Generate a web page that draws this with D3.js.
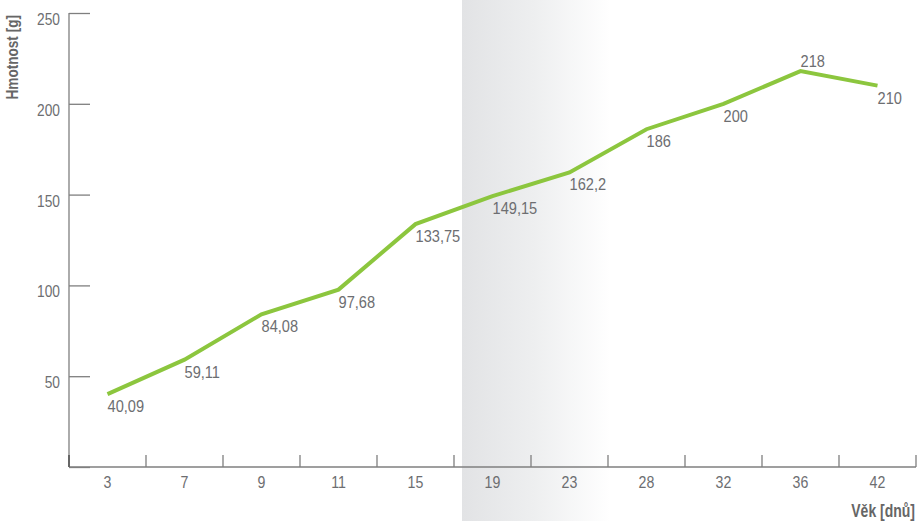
<!DOCTYPE html>
<html><head><meta charset="utf-8">
<script src="https://cdn.jsdelivr.net/npm/d3@7"></script>
<style>
html,body{margin:0;padding:0;background:#fff;}
svg{display:block;}
text{font-family:"Liberation Sans",Arial,sans-serif;}
</style></head>
<body>
<svg id="chart" width="917" height="521"></svg>
<script>
const categories = ["3","7","9","11","15","19","23","28","32","36","42"];
const weights = [40.09, 59.11, 84.08, 97.68, 133.75, 149.15, 162.2, 186, 200, 218, 210];
const weightLabels = ["40,09","59,11","84,08","97,68","133,75","149,15","162,2","186","200","218","210"];
const yTicks = [0, 50, 100, 150, 200, 250];
const yTitle = "Hmotnost [g]";
const xTitle = "Věk [dnů]";

(function(){
const W = 917, H = 521;
const svg = d3.select("#chart");
const mLeft = 69, mRight = 916, mTop = 13, mBottom = 467;
const SX = 0.86; // horizontal condensing of the labels

const x = d3.scaleBand().domain(categories).range([mLeft, mRight]).padding(0);
const y = d3.scaleLinear().domain([0, 250]).range([mBottom, mTop]);

// shaded gradient band
const defs = svg.append("defs");
const grad = defs.append("linearGradient").attr("id","shade").attr("x1","0").attr("x2","1").attr("y1","0").attr("y2","0");
grad.append("stop").attr("offset","0").attr("stop-color","#e2e3e5");
grad.append("stop").attr("offset","0.5").attr("stop-color","#eeeff0");
grad.append("stop").attr("offset","1").attr("stop-color","#ffffff");
svg.append("rect").attr("x", 462).attr("y", 0).attr("width", 148).attr("height", H).attr("fill","url(#shade)");

const axisColor = "#7f7f7f";
const textColor = "#6d6e71";

// y axis
const yAxis = d3.axisRight(y).tickValues(yTicks).tickSize(21).tickFormat("");
const gy = svg.append("g").attr("transform", `translate(${mLeft},0)`).call(yAxis);
gy.select(".domain").remove();
gy.selectAll(".tick line").attr("stroke", axisColor).attr("stroke-width", 1.3);
svg.append("line").attr("x1", mLeft).attr("x2", mLeft).attr("y1", mTop).attr("y2", mBottom).attr("stroke", axisColor).attr("stroke-width", 1.3);
svg.append("g").selectAll("text").data(yTicks.filter(d => d > 0)).join("text")
  .attr("transform", d => `translate(60,${y(d) + 12}) scale(${SX},1)`)
  .attr("text-anchor", "end").attr("font-size", 16).attr("fill", textColor)
  .text(d => d);

// x axis
svg.append("line").attr("x1", mLeft).attr("x2", mRight).attr("y1", mBottom).attr("y2", mBottom).attr("stroke", axisColor).attr("stroke-width", 1.3);
const boundaries = categories.map(c => x(c) + x.bandwidth());
svg.append("g").selectAll("line").data(boundaries).join("line")
  .attr("x1", d => d).attr("x2", d => d).attr("y1", mBottom - 12).attr("y2", mBottom)
  .attr("stroke", axisColor).attr("stroke-width", 1.3);
svg.append("line").attr("x1", mLeft).attr("x2", mLeft).attr("y1", mBottom - 12).attr("y2", mBottom).attr("stroke", "#666").attr("stroke-width", 2);
svg.append("g").selectAll("text").data(categories).join("text")
  .attr("transform", d => `translate(${x(d) + x.bandwidth() / 2},488) scale(${SX},1)`)
  .attr("text-anchor", "middle").attr("font-size", 16.5).attr("fill", textColor)
  .text(d => d);

// line
const cx = c => x(c) + x.bandwidth() / 2;
const line = d3.line().x((d, i) => cx(categories[i])).y(d => y(d));
svg.append("path").datum(weights).attr("d", line)
  .attr("fill", "none").attr("stroke", "#8cc63e").attr("stroke-width", 4).attr("stroke-linejoin", "miter");

// value labels
const maxI = weights.indexOf(d3.max(weights));
svg.append("g").selectAll("text").data(weights).join("text")
  .attr("transform", (d, i) => `translate(${cx(categories[i])},${i === maxI ? y(d) - 4 : y(d) + 18}) scale(${SX},1)`)
  .attr("font-size", 17).attr("fill", textColor)
  .text((d, i) => weightLabels[i]);

// titles
svg.append("text").attr("transform", "translate(18,15) rotate(-90) scale(0.85,1)")
  .attr("text-anchor", "end").attr("font-size", 16).attr("font-weight", "bold").attr("fill", "#666")
  .text(yTitle);
svg.append("text").attr("transform", "translate(915,517) scale(0.8,1)")
  .attr("text-anchor", "end").attr("font-size", 17.5).attr("font-weight", "bold").attr("fill", "#666")
  .text(xTitle);
})();
</script>
</body></html>
